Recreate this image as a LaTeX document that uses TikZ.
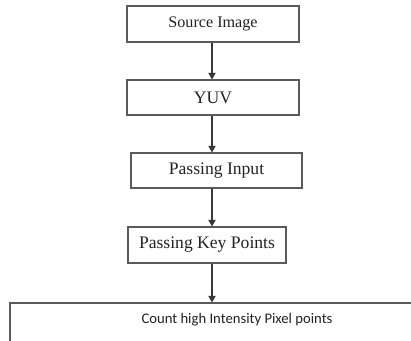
\documentclass[tikz,border=0pt]{standalone}
\usepackage{fontspec}
\setmainfont{Liberation Serif}
\newfontfamily\calib{Carlito}
\usetikzlibrary{arrows.meta}
\definecolor{edge}{HTML}{5A5A5A}
\definecolor{ink}{HTML}{222222}
\begin{document}
\begin{tikzpicture}[x=0.75pt,y=-0.75pt,
  box/.style={draw=edge,line width=0.8pt,inner sep=0pt,text=ink,font=\fontsize{13.2}{15}\selectfont},
  conn/.style={draw=ink!90,line width=0.8pt,-{Triangle[width=5.5pt,length=5pt]}}]
\useasboundingbox (0,0) rectangle (411,340);
\clip (0,0) rectangle (411,340);
\node[box,minimum width=129pt,minimum height=27pt,font=\fontsize{12.1}{14}\selectfont] (n1) at (213,24) {Source Image};
\node[box,minimum width=129pt,minimum height=26.25pt] (n2) at (213,97.5) {YUV};
\node[box,minimum width=128.25pt,minimum height=26.25pt] (n3) at (216.5,170.5) {Passing Input};
\node[box,minimum width=118.5pt,minimum height=27pt] (n4) at (207,245) {Passing Key Points};
\node[box,minimum width=345pt,minimum height=42pt] (n5) at (240,331) {};
\node[text=ink,font=\calib\fontsize{11}{13}\selectfont] (t5) at (237,320) {Count high Intensity Pixel points};
\coordinate (ax) at (212,0);
\draw[conn] (n1.south -| ax) -- (n2.north -| ax);
\draw[conn] (n2.south -| ax) -- (n3.north -| ax);
\draw[conn] (n3.south -| ax) -- (n4.north -| ax);
\draw[conn] (n4.south -| ax) -- (n5.north -| ax);
\end{tikzpicture}
\end{document}
